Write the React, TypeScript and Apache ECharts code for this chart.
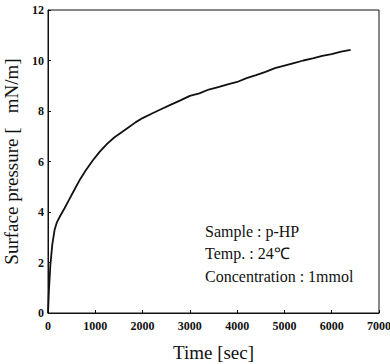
import React, { useEffect, useRef } from "react";
import * as echarts from "echarts";

const timeSec = [0, 20, 50, 90, 140, 190, 260, 350, 450, 550, 680, 800, 950, 1100, 1250, 1400, 1550, 1700, 1850, 2000, 2200, 2400, 2600, 2800, 3000, 3200, 3400, 3600, 3800, 4000, 4200, 4400, 4600, 4800, 5000, 5200, 5400, 5600, 5800, 6000, 6200, 6400];
const pressure = [0, 0.9, 1.9, 2.7, 3.3, 3.6, 3.85, 4.15, 4.5, 4.85, 5.3, 5.65, 6.05, 6.4, 6.7, 6.95, 7.15, 7.35, 7.55, 7.72, 7.9, 8.08, 8.25, 8.42, 8.6, 8.7, 8.85, 8.95, 9.05, 9.15, 9.3, 9.42, 9.55, 9.7, 9.8, 9.9, 10.0, 10.08, 10.18, 10.25, 10.35, 10.42];
const xTicks = { min: 0, max: 7000, interval: 1000 };
const yTicks = { min: 0, max: 12, interval: 2 };
const notes = ["Sample : p-HP", "Temp. : 24\u2103", "Concentration : 1mmol"];

export default function App() {
  const ref = useRef<HTMLDivElement>(null);
  useEffect(() => {
    if (!ref.current) return;
    const chart = echarts.init(ref.current, null, { renderer: "svg" });
    const serif = "'Liberation Serif', 'Times New Roman', serif";
    chart.setOption({
      animation: false,
      backgroundColor: "#fff",
      grid: { left: 48, right: 11, top: 10, bottom: 51, containLabel: false, outerBoundsMode: "none", show: true, borderColor: "#111", borderWidth: 1, backgroundColor: "transparent" },
      xAxis: {
        type: "value",
        ...xTicks,
        name: "Time [sec]",
        nameLocation: "middle",
        nameGap: 30,
        nameTextStyle: { fontFamily: serif, fontSize: 19, color: "#111" },
        axisLine: { show: true, lineStyle: { color: "#111" } },
        axisTick: { show: true, inside: true, length: 3, lineStyle: { color: "#111" } },
        axisLabel: { fontFamily: serif, fontSize: 12, fontWeight: "bold", color: "#111", margin: 7, formatter: (v: number) => String(v) },
        splitLine: { show: false },
      },
      yAxis: {
        type: "value",
        ...yTicks,
        name: "Surface pressure [   mN/m]",
        nameLocation: "middle",
        nameGap: 21,
        nameTextStyle: { fontFamily: serif, fontSize: 19, color: "#111" },
        axisLine: { show: true, lineStyle: { color: "#111" } },
        axisTick: { show: true, inside: true, length: 3, lineStyle: { color: "#111" } },
        axisLabel: { fontFamily: serif, fontSize: 12, fontWeight: "bold", color: "#111", margin: 4, formatter: (v: number) => String(v) },
        splitLine: { show: false },
      },
      series: [
        {
          type: "line",
          data: timeSec.map((t, i) => [t, pressure[i]]),
          showSymbol: false,
          lineStyle: { color: "#111", width: 1.8 },
        },
      ],
      graphic: notes.map((t, i) => ({
        type: "text",
        left: 205,
        top: 223 + i * 22.5,
        style: { text: t, font: `16px ${serif}`, fill: "#111" },
      })),
    });
    return () => chart.dispose();
  }, []);
  return <div ref={ref} style={{ position: "absolute", left: 0, top: 0, width: 390, height: 364 }} />;
}
